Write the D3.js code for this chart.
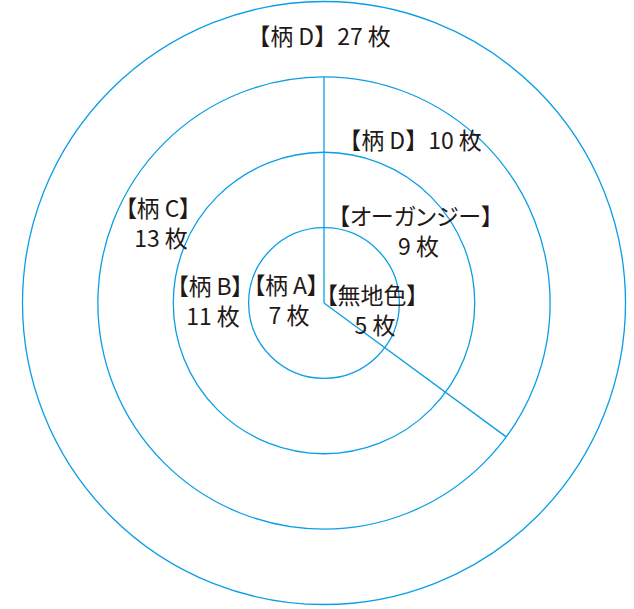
<!DOCTYPE html>
<html>
<head>
<meta charset="utf-8">
<script src="https://cdn.jsdelivr.net/npm/d3@7"></script>
<style>
  body { margin: 0; background: #fff; }
  text { font-family: "Noto Sans CJK JP", "Noto Sans", sans-serif; fill: #231815; }
  .tight { font-feature-settings: "palt" 1; }
</style>
</head>
<body>
<svg id="chart" width="634" height="609"></svg>
<script>
// categories and counts, inner ring to outer ring
const names  = ["柄 A", "無地色", "柄 B", "オーガンジー", "柄 C", "柄 D", "柄 D"];
const counts = [7, 5, 11, 9, 13, 10, 27];
const ringOf = [0, 0, 1, 1, 2, 2, 3];
const oneLine = [false, false, false, false, false, true, true];
const ringCount = 4;

// layout
const cx = 324, cy = 303;
const dividerAngles = [0, 126.3];   // degrees clockwise from top
const labelPos = [[-38, -9.5], [48, 0.5], [-114, -8], [91.5, -78], [-166, -86], [86, -154], [-5, -258]];

const svg = d3.select("#chart");
const r = d3.scaleLinear().domain([0, ringCount]).range([0, 301.5]);

const g = svg.append("g").attr("transform", `translate(${cx},${cy})`);

g.selectAll("circle")
  .data(d3.range(1, ringCount + 1))
  .join("circle")
  .attr("r", d => r(d))
  .attr("fill", "none")
  .attr("stroke", "#0a9ee6")
  .attr("stroke-width", 1.3);

// dividers go out to the third ring
g.selectAll("line")
  .data(dividerAngles)
  .join("line")
  .attr("x1", 0).attr("y1", 0)
  .attr("x2", a => r(3) * Math.sin(a * Math.PI / 180))
  .attr("y2", a => -r(3) * Math.cos(a * Math.PI / 180))
  .attr("stroke", "#0a9ee6")
  .attr("stroke-width", 1.3);

const labels = g.selectAll("g.lab")
  .data(names.map((n, i) => ({ name: n, count: counts[i], ring: ringOf[i], one: oneLine[i], pos: labelPos[i] })))
  .join("g")
  .attr("class", "lab")
  .attr("transform", d => `translate(${d.pos[0]},${d.pos[1]})`);

labels.each(function(d) {
  const t = d3.select(this);
  if (d.one) {
    t.append("text").attr("text-anchor", "middle").attr("font-size", 23)
      .text(`【${d.name}】${d.count} 枚`);
  } else {
    t.append("text").attr("class", "tight").attr("text-anchor", "middle").attr("font-size", 23)
      .text(`【${d.name}】`);
    t.append("text").attr("text-anchor", "middle").attr("font-size", 23)
      .attr("x", 3).attr("y", 30).text(`${d.count} 枚`);
  }
});
</script>
</body>
</html>
